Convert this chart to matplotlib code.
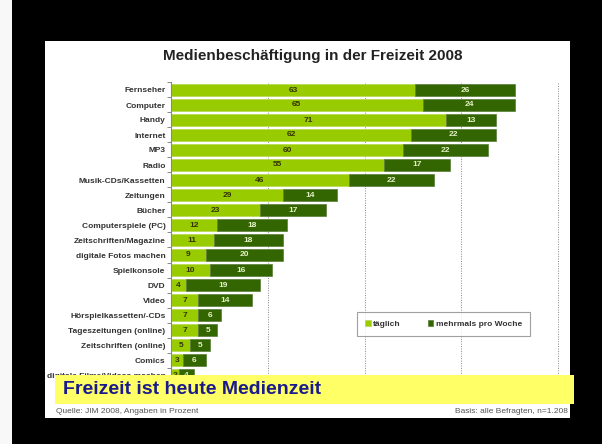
import matplotlib
matplotlib.use("Agg")
import matplotlib.pyplot as plt
from matplotlib.patches import Rectangle
from matplotlib.ticker import FixedLocator
import numpy as np

plt.rcParams['font.family'] = ['Liberation Sans', 'DejaVu Sans']

categories = ["Fernseher", "Computer", "Handy", "Internet", "MP3", "Radio",
              "Musik-CDs/Kassetten", "Zeitungen", "Bücher", "Computerspiele (PC)",
              "Zeitschriften/Magazine", "digitale Fotos machen", "Spielkonsole",
              "DVD", "Video", "Hörspielkassetten/-CDs", "Tageszeitungen (online)",
              "Zeitschriften (online)", "Comics", "digitale Filme/Videos machen"]
taeglich = [63, 65, 71, 62, 60, 55, 46, 29, 23, 12, 11, 9, 10, 4, 7, 7, 7, 5, 3, 2]
mehrmals = [26, 24, 13, 22, 22, 17, 22, 14, 17, 18, 18, 20, 16, 19, 14, 6, 5, 5, 6, 4]
series_names = ["täglich", "mehrmals pro Woche"]
title = "Medienbeschäftigung in der Freizeit 2008"
gridticks = [25, 50, 75, 100]

W, H = 602, 444
fig = plt.figure(figsize=(W / 100, H / 100), dpi=100, facecolor="black")

def fx(px):
    return px / W

def fy(py):
    return 1 - py / H

# white strip at far left and white panel
fig.patches.append(Rectangle((0, 0), fx(12), 1, transform=fig.transFigure,
                             facecolor="#f8f8f8", edgecolor="none", zorder=-10))
fig.patches.append(Rectangle((fx(45), fy(418)), fx(570) - fx(45), fy(41) - fy(418),
                             transform=fig.transFigure, facecolor="white",
                             edgecolor="none", zorder=-10))

ax = fig.add_axes([fx(171), fy(382.5), fx(560) - fx(171), fy(82.5) - fy(382.5)])
ax.set_facecolor("none")

light = "#99cc00"
dark = "#336600"
y = np.arange(len(categories))
h = 0.84
ax.barh(y, taeglich, height=h, color=light, edgecolor="#b5d94a", linewidth=0.5,
        label=series_names[0], zorder=2)
ax.barh(y, mehrmals, left=taeglich, height=h, color=dark, edgecolor="#5a7a3a",
        linewidth=0.5, label=series_names[1], zorder=2)

for i in range(len(categories)):
    a, b = taeglich[i], mehrmals[i]
    ax.text(a / 2, y[i], str(a), ha="center", va="center", fontsize=6,
            color="#333300", fontweight="bold", zorder=3)
    ax.text(a + b / 2, y[i], str(b), ha="center", va="center", fontsize=6,
            color="#e4f2c8", fontweight="bold", zorder=3)

ax.set_xlim(0, 100.5)
ax.set_ylim(len(categories) - 0.5, -0.5)
ax.xaxis.set_major_locator(FixedLocator(gridticks))
ax.grid(axis="x", color="#888888", linestyle=(0, (1, 1.5)), linewidth=0.7, zorder=0)
ax.tick_params(axis="x", length=0, labelbottom=False)
ax.set_yticks(y)
ax.set_yticklabels(categories, fontsize=6, color="#333333", fontweight="bold")
ax.yaxis.set_minor_locator(FixedLocator(np.arange(-0.5, len(categories), 1)))
ax.tick_params(axis="y", which="major", length=0, pad=4)
ax.tick_params(axis="y", which="minor", length=3, color="#888888", width=0.7)
for s in ["top", "right", "bottom"]:
    ax.spines[s].set_visible(False)
ax.spines["left"].set_color("#888888")
ax.spines["left"].set_linewidth(0.8)

leg = ax.legend(loc="center", bbox_to_anchor=(fx(443.5), fy(324)),
                bbox_transform=fig.transFigure, ncol=2,
                frameon=True, fancybox=False, handlelength=0.7, handleheight=0.7,
                columnspacing=3.2, handletextpad=0.3, borderpad=1.0,
                prop={"weight": "bold", "size": 6})
leg.get_frame().set_edgecolor("#888888")
leg.get_frame().set_linewidth(0.8)
for t in leg.get_texts():
    t.set_color("#333333")

fig.text(fx(313), fy(56), title, ha="center", va="center", fontsize=11,
         fontweight="bold", color="#222222")

# yellow banner
fig.patches.append(Rectangle((fx(55), fy(404)), fx(574) - fx(55), fy(375) - fy(404),
                             transform=fig.transFigure, facecolor="#ffff66",
                             edgecolor="none", zorder=10))
fig.text(fx(63), fy(389.5), "Freizeit ist heute Medienzeit", ha="left", va="center",
         fontsize=14, fontweight="bold", color="#1a1a8c", zorder=11)

fig.text(fx(56), fy(411), "Quelle: JIM 2008, Angaben in Prozent", ha="left",
         va="center", fontsize=6, color="#555555", zorder=11)
fig.text(fx(568), fy(411), "Basis: alle Befragten, n=1.208", ha="right",
         va="center", fontsize=6, color="#555555", zorder=11)

fig.savefig("out.png", dpi=100, facecolor="black")
